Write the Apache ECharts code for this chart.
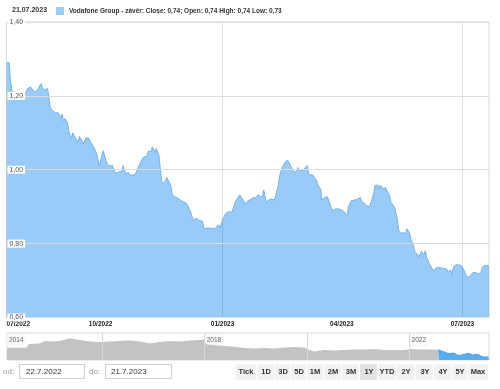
<!DOCTYPE html>
<html><head><meta charset="utf-8">
<script src="https://cdn.jsdelivr.net/npm/echarts@6/dist/echarts.min.js"></script>
<style>html,body{margin:0;padding:0;background:#fff}#c{width:500px;height:389px}</style>
</head><body><div id="c"></div>
<script>
// ---- data ----
const seriesName = 'Vodafone Group - závěr';
const headerDate = '21.07.2023';
const quoteNames = ['Close', 'Open', 'High', 'Low'];
const quoteValues = [0.74, 0.74, 0.74, 0.73];

const mainDates = [
 '2022-07-22','2022-07-24','2022-07-25','2022-07-26','2022-07-27','2022-08-05','2022-08-07','2022-08-09','2022-08-11','2022-08-13',
 '2022-08-15','2022-08-17','2022-08-18','2022-08-20','2022-08-22','2022-08-24','2022-08-26','2022-08-28','2022-08-30','2022-09-01',
 '2022-09-02','2022-09-03','2022-09-04','2022-09-06','2022-09-07','2022-09-09','2022-09-10','2022-09-12','2022-09-14','2022-09-15',
 '2022-09-17','2022-09-18','2022-09-20','2022-09-22','2022-09-23','2022-09-26','2022-09-28','2022-09-30','2022-10-02','2022-10-03',
 '2022-10-05','2022-10-07','2022-10-08','2022-10-10','2022-10-12','2022-10-14','2022-10-17','2022-10-18','2022-10-20','2022-10-22',
 '2022-10-23','2022-10-27','2022-10-29','2022-10-31','2022-11-02','2022-11-05','2022-11-06','2022-11-08','2022-11-09','2022-11-11',
 '2022-11-12','2022-11-14','2022-11-15','2022-11-16','2022-11-17','2022-11-19','2022-11-20','2022-11-21','2022-11-23','2022-11-24',
 '2022-11-26','2022-11-29','2022-12-01','2022-12-03','2022-12-05','2022-12-08','2022-12-10','2022-12-12','2022-12-14','2022-12-17',
 '2022-12-18','2022-12-20','2022-12-21','2022-12-23','2022-12-24','2022-12-26','2022-12-27','2022-12-29','2022-12-30','2023-01-01',
 '2023-01-03','2023-01-05','2023-01-08','2023-01-09','2023-01-11','2023-01-12','2023-01-14','2023-01-15','2023-01-17','2023-01-18',
 '2023-01-20','2023-01-22','2023-01-24','2023-01-26','2023-01-28','2023-01-29','2023-01-31','2023-02-01','2023-02-03','2023-02-04',
 '2023-02-06','2023-02-07','2023-02-09','2023-02-10','2023-02-12','2023-02-13','2023-02-15','2023-02-17','2023-02-19','2023-02-20',
 '2023-02-22','2023-02-24','2023-02-26','2023-02-27','2023-02-28','2023-03-01','2023-03-03','2023-03-04','2023-03-06','2023-03-07',
 '2023-03-10','2023-03-11','2023-03-13','2023-03-14','2023-03-16','2023-03-17','2023-03-19','2023-03-21','2023-03-22','2023-03-24',
 '2023-03-25','2023-03-27','2023-03-28','2023-03-30','2023-03-31','2023-04-02','2023-04-03','2023-04-05','2023-04-06','2023-04-08',
 '2023-04-09','2023-04-12','2023-04-13','2023-04-15','2023-04-16','2023-04-18','2023-04-19','2023-04-20','2023-04-22','2023-04-23',
 '2023-04-25','2023-04-26','2023-04-28','2023-04-29','2023-04-30','2023-05-01','2023-05-02','2023-05-04','2023-05-05','2023-05-07',
 '2023-05-08','2023-05-10','2023-05-11','2023-05-13','2023-05-14','2023-05-15','2023-05-16','2023-05-18','2023-05-19','2023-05-20',
 '2023-05-22','2023-05-23','2023-05-25','2023-05-26','2023-05-28','2023-05-29','2023-05-30','2023-05-31','2023-06-02','2023-06-03',
 '2023-06-04','2023-06-06','2023-06-07','2023-06-09','2023-06-10','2023-06-12','2023-06-13','2023-06-15','2023-06-16','2023-06-19',
 '2023-06-20','2023-06-22','2023-06-23','2023-06-24','2023-06-25','2023-06-27','2023-06-28','2023-06-30','2023-07-01','2023-07-03',
 '2023-07-04','2023-07-06','2023-07-07','2023-07-09','2023-07-10','2023-07-11','2023-07-13','2023-07-14','2023-07-15','2023-07-16',
 '2023-07-18','2023-07-19','2023-07-21'
];
const mainValues = [
 1.29,1.29,1.24,1.216,1.205,1.205,1.22,1.224,1.216,1.21,
 1.22,1.233,1.222,1.216,1.22,1.168,1.159,1.154,1.154,1.141,
 1.151,1.132,1.138,1.128,1.105,1.084,1.10,1.086,1.074,1.09,
 1.078,1.07,1.086,1.086,1.078,1.06,1.043,1.011,1.038,1.051,
 1.024,1.011,1.016,1.011,0.99,0.993,0.996,1.011,0.989,0.993,
 0.986,0.986,1.002,1.02,1.033,1.038,1.051,1.049,1.062,1.047,
 1.058,1.038,1.038,0.97,0.963,0.97,0.979,0.981,0.957,0.932,
 0.927,0.921,0.916,0.912,0.908,0.885,0.862,0.869,0.864,0.86,
 0.84,0.842,0.84,0.842,0.838,0.84,0.844,0.851,0.844,0.862,
 0.88,0.886,0.885,0.88,0.916,0.918,0.932,0.925,0.916,0.905,
 0.916,0.919,0.924,0.925,0.932,0.934,0.925,0.945,0.912,0.916,
 0.921,0.925,0.918,0.93,0.957,0.984,1.006,1.02,1.026,1.02,
 1.006,0.993,0.997,1.006,0.999,1.002,0.999,1.005,1.011,0.986,
 0.986,0.984,0.97,0.957,0.948,0.918,0.925,0.927,0.918,0.898,
 0.889,0.894,0.891,0.894,0.894,0.889,0.891,0.876,0.90,0.916,
 0.921,0.919,0.921,0.925,0.914,0.909,0.903,0.907,0.90,0.912,
 0.934,0.957,0.959,0.948,0.959,0.963,0.948,0.952,0.943,0.93,
 0.912,0.903,0.896,0.862,0.835,0.83,0.828,0.83,0.824,0.84,
 0.83,0.813,0.795,0.778,0.772,0.763,0.763,0.779,0.77,0.781,
 0.763,0.745,0.741,0.727,0.729,0.736,0.738,0.734,0.738,0.732,
 0.722,0.729,0.714,0.734,0.741,0.743,0.743,0.741,0.736,0.722,
 0.711,0.709,0.711,0.722,0.72,0.722,0.718,0.718,0.722,0.736,
 0.741,0.738,0.74
];

const navDates = ['2014-02-21','2014-07-10','2014-07-27','2014-10-12','2014-11-17','2015-01-29','2015-03-18','2015-05-15','2015-07-24','2015-10-04',
 '2015-12-13','2016-02-23','2016-05-04','2016-07-15','2016-09-24','2016-12-05','2017-02-14','2017-04-27','2017-07-06','2017-09-16',
 '2017-11-26','2017-12-24','2018-01-15','2018-04-17','2018-07-12','2018-10-12','2018-12-20','2019-03-03','2019-05-12','2019-07-23',
 '2019-10-02','2019-12-12','2020-01-18','2020-02-22','2020-05-04','2020-07-13','2020-09-23','2020-12-03','2021-02-13','2021-04-23',
 '2021-07-05','2021-09-13','2021-11-24','2022-01-15','2022-03-14','2022-05-26','2022-07-22'];
const navValues = [1.45,1.45,1.73,1.77,1.96,1.92,2.0,2.17,2.04,1.92,
 1.88,1.92,1.96,2.0,1.92,1.77,1.88,1.96,1.92,2.0,
 2.04,2.08,1.69,1.62,1.54,1.42,1.38,1.42,1.38,1.46,
 1.5,1.46,1.27,1.15,1.27,1.23,1.27,1.31,1.31,1.35,
 1.27,1.27,1.27,1.35,1.31,1.31,1.29];

const xTickDates = ['2022-07-22','2022-10-01','2023-01-01','2023-04-01','2023-07-01'];
const xGridDates = ['2023-01-01','2023-07-01'];
const navStart = '2014-02-21';
const navLabelDates = ['2014-02-21','2018-01-01','2022-01-01'];
const navGridDates = ['2016-01-01','2018-01-01','2020-01-01','2022-01-01'];
const fromText = '22.7.2022', toText = '21.7.2023';
const rangeButtons = ['Tick','1D','3D','5D','1M','2M','3M','1Y','YTD','2Y','3Y','4Y','5Y','Max'];
const activeButton = '1Y';

// ---- helpers ----
function ts(s){ const p = s.split('-').map(Number); return new Date(p[0], p[1]-1, p[2]).getTime(); }
function fmtNum(v){ return v.toFixed(2).replace('.', ','); }
const quoteText = quoteNames[0] + ': ' + fmtNum(quoteValues[0]) + '; ' + quoteNames[1] + ': ' + fmtNum(quoteValues[1]) + ' ' +
  quoteNames[2] + ': ' + fmtNum(quoteValues[2]) + ' ' + quoteNames[3] + ': ' + fmtNum(quoteValues[3]);

const mainData = mainDates.map((d, i) => [ts(d), mainValues[i]]);
const navData = navDates.map((d, i) => [ts(d), navValues[i]]);
const FONT = 'Liberation Sans, Arial, sans-serif';

// bottom UI graphics
const graphic = [];
graphic.push({type:'text', x:3, y:372, style:{text:'od:', fill:'#9a9a9a', font:'8px ' + FONT, verticalAlign:'middle'}});
graphic.push({type:'rect', shape:{x:19.5, y:364.5, width:65, height:14}, style:{fill:'#fff', stroke:'#cfcfcf', lineWidth:1}});
graphic.push({type:'text', x:26, y:372, style:{text:fromText, fill:'#333', font:'8px ' + FONT, verticalAlign:'middle'}});
graphic.push({type:'text', x:89, y:372, style:{text:'do:', fill:'#9a9a9a', font:'8px ' + FONT, verticalAlign:'middle'}});
graphic.push({type:'rect', shape:{x:105.5, y:364.5, width:66, height:14}, style:{fill:'#fff', stroke:'#cfcfcf', lineWidth:1}});
graphic.push({type:'text', x:111, y:372, style:{text:toText, fill:'#333', font:'8px ' + FONT, verticalAlign:'middle'}});
const btnCenters = [246,266,283,299,315,333,351,369,387,406,425,443,460,478];
const btnEdges = [236,257,275,291,307,324,342,360,378,397,416,434,452,468,489];
rangeButtons.forEach((b, i) => {
  graphic.push({type:'rect', shape:{x:btnEdges[i], y:364, width:btnEdges[i+1]-btnEdges[i]-1, height:16},
    style:{fill: b === activeButton ? '#e2e2e2' : '#f2f2f2'}});
  graphic.push({type:'text', x:btnCenters[i], y:372, style:{text:b, fill:'#333', font:'bold 7.5px ' + FONT, align:'center', verticalAlign:'middle'}});
});

const chart = echarts.init(document.getElementById('c'), null, {renderer:'canvas'});
chart.setOption({
  animation:false,
  textStyle:{fontFamily:FONT},
  title:{text:headerDate, left:12, top:7, padding:0, textStyle:{fontSize:7, fontWeight:'bold', color:'#333', fontFamily:FONT}},
  legend:{left:56, top:7, padding:0, itemWidth:8, itemHeight:8, icon:'rect', selectedMode:false,
    data:[{name:seriesName, itemStyle:{color:'#9dcdf7'}}],
    formatter:function(n){ return n + ': ' + quoteText; },
    textStyle:{fontSize:6.5, fontWeight:'bold', color:'#333', fontFamily:FONT}},
  grid:[
    {left:6.5, right:11, top:22, height:295.5, show:true, borderColor:'#d9d9d9', borderWidth:1, backgroundColor:'transparent'},
    {left:7, right:11, top:333, height:27, show:true, borderColor:'#d9d9d9', borderWidth:1, backgroundColor:'transparent'}
  ],
  xAxis:[
    {type:'value', gridIndex:0, min:ts(mainDates[0]), max:ts(mainDates[mainDates.length-1]),
     axisLine:{show:false}, axisTick:{show:false}, splitLine:{show:false},
     axisLabel:{customValues:xTickDates.map(ts), hideOverlap:false, alignMinLabel:'left', showMinLabel:true,
       formatter:function(v){ const d = new Date(v); return String(d.getMonth()+1).padStart(2,'0') + '/' + d.getFullYear(); },
       fontSize:6.5, fontWeight:'bold', color:'#222', margin:3}},
    {type:'value', gridIndex:1, position:'top', min:ts(navStart), max:ts(mainDates[mainDates.length-1]),
     axisLine:{show:false}, axisTick:{show:false}, splitLine:{show:false},
     axisLabel:{inside:true, customValues:navLabelDates.map(ts), hideOverlap:false, align:'left', showMinLabel:true,
       formatter:function(v){ return String(new Date(v).getFullYear()); },
       fontSize:6.5, color:'#666', margin:1, backgroundColor:'rgba(250,250,250,0.9)', padding:[3,3,3,2]}}
  ],
  yAxis:[
    {type:'value', gridIndex:0, min:0.6, max:1.4, interval:0.2, z:10,
     axisLine:{show:false}, axisTick:{show:false},
     splitLine:{lineStyle:{color:'#dcdcdc', width:1}},
     axisLabel:{inside:true, formatter:fmtNum, fontSize:7, color:'#555', backgroundColor:'#fff', padding:[1,2,0,2], margin:1}},
    {type:'value', gridIndex:1, min:0.5, max:2.58, show:false}
  ],
  graphic:graphic,
  series:[
    {name:seriesName, type:'line', xAxisIndex:0, yAxisIndex:0, data:mainData, showSymbol:false, symbol:'none',
     lineStyle:{color:'#72b2ea', width:1}, itemStyle:{color:'#72b2ea'},
     areaStyle:{color:'rgba(72,163,240,0.56)', opacity:1, origin:'start'},
     markLine:{silent:true, symbol:['none','none'], label:{show:false},
       lineStyle:{color:'rgba(0,0,0,0.12)', type:'solid', width:1},
       data:xGridDates.map(d => ({xAxis:ts(d)}))}},
    {name:'nav', type:'line', xAxisIndex:1, yAxisIndex:1, data:navData, showSymbol:false, symbol:'none',
     lineStyle:{width:0, color:'#c3c3c3'}, itemStyle:{color:'#c3c3c3'},
     areaStyle:{color:'#c3c3c3', opacity:1, origin:'start'},
     markLine:{silent:true, symbol:['none','none'], label:{show:false},
       lineStyle:{color:'#d6d6d6', type:'solid', width:1},
       data:navGridDates.map(d => ({xAxis:ts(d)}))}},
    {name:'navSel', type:'line', xAxisIndex:1, yAxisIndex:1, data:mainData, showSymbol:false, symbol:'none',
     lineStyle:{width:1, color:'#4aa3ee'}, itemStyle:{color:'#4aa3ee'},
     areaStyle:{color:'#5aacf0', opacity:1, origin:'start'}}
  ]
});
</script></body></html>
